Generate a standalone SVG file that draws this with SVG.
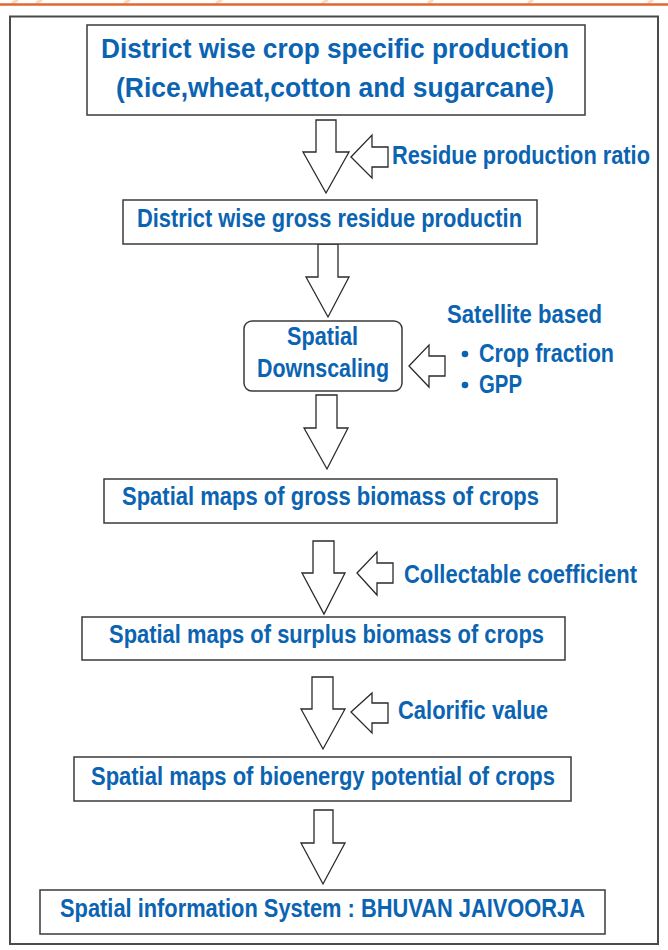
<svg xmlns="http://www.w3.org/2000/svg" width="668" height="950" viewBox="0 0 668 950">
<defs>
<style>
.t{font-family:"Liberation Sans Narrow","Liberation Sans",Arial,sans-serif;font-weight:bold;fill:#0B64B2;font-size:26.5px}
.tt{font-size:28.5px}
.box{fill:#fff;stroke:#3a3a3a;stroke-width:1.5}
.arr{fill:#fff;stroke:#2a2a2a;stroke-width:1.3;stroke-linejoin:miter}
.deco{stroke:#F7C9A8;stroke-width:3;fill:none;opacity:0.7}
</style>
</defs>
<rect width="668" height="950" fill="#fff"/>
<g id="topband">
<path class="deco" d="M12 3 L18 0 M36 3 L42 0 M124 3 L130 0 M216 3 L222 0 M322 3 L328 0 M428 3 L433 0 M528 3 L533 0 M648 3 L653 0"/>
<line x1="0" y1="4.5" x2="668" y2="4.5" stroke="#E0672D" stroke-width="2.5"/>
</g>
<rect id="frame" x="10" y="16.5" width="648" height="927.5" fill="none" stroke="#4a4a4a" stroke-width="2"/>

<g id="connectors">
<polygon class="arr" points="316,120 336,120 336,152 349,152 326,193 303,152 316,152"/>
<polygon class="arr" points="318,244 338,244 338,277 349,277 328,317 306,277 318,277"/>
<polygon class="arr" points="316,395 337,395 337,428 348,428 327,469 304,428 316,428"/>
<polygon class="arr" points="313,541 334,541 334,573 345,573 324,614 302,573 313,573"/>
<polygon class="arr" points="312,677 333,677 333,709 345,709 323,749 301,709 312,709"/>
<polygon class="arr" points="314,810 333,810 333,843 345,843 323,884 301,843 314,843"/>
<polygon class="arr" points="351,157 372,135 372,147 388,147 388,167 372,167 372,178"/>
<polygon class="arr" points="409,366 429,345 429,356 445,356 445,376 429,376 429,387"/>
<polygon class="arr" points="357,573 377,552 377,563 393,563 393,583 377,583 377,595"/>
<polygon class="arr" points="351,712 372,693 372,703 388,703 388,723 372,723 372,733"/>
</g>

<g id="n1">
<rect class="box" x="87" y="25" width="498" height="90"/>
<text class="t tt" x="101" y="58" textLength="468" lengthAdjust="spacingAndGlyphs">District wise crop specific production</text>
<text class="t tt" x="116" y="97" textLength="438" lengthAdjust="spacingAndGlyphs">(Rice,wheat,cotton and sugarcane)</text>
</g>
<g id="in1">
<text class="t" x="392" y="164" textLength="258" lengthAdjust="spacingAndGlyphs">Residue production ratio</text>
</g>
<g id="n2">
<rect class="box" x="123" y="200" width="414" height="44"/>
<text class="t" x="137" y="227" textLength="385" lengthAdjust="spacingAndGlyphs">District wise gross residue productin</text>
</g>
<g id="n3">
<rect class="box" x="244" y="321" width="158" height="70" rx="8" ry="8"/>
<text class="t" x="287" y="345" textLength="71" lengthAdjust="spacingAndGlyphs">Spatial</text>
<text class="t" x="257" y="377" textLength="132" lengthAdjust="spacingAndGlyphs">Downscaling</text>
</g>
<g id="in2">
<text class="t" x="447" y="323" textLength="155" lengthAdjust="spacingAndGlyphs">Satellite based</text>
<circle cx="465" cy="354" r="3.3" fill="#0B64B2"/>
<text class="t" x="479" y="362" textLength="135" lengthAdjust="spacingAndGlyphs">Crop fraction</text>
<circle cx="465" cy="385" r="3.3" fill="#0B64B2"/>
<text class="t" x="479" y="393" textLength="43" lengthAdjust="spacingAndGlyphs">GPP</text>
</g>
<g id="n4">
<rect class="box" x="104" y="479" width="453" height="44"/>
<text class="t" x="122" y="505" textLength="417" lengthAdjust="spacingAndGlyphs">Spatial maps of gross biomass of crops</text>
</g>
<g id="in3">
<text class="t" x="404" y="583" textLength="233" lengthAdjust="spacingAndGlyphs">Collectable coefficient</text>
</g>
<g id="n5">
<rect class="box" x="82" y="617" width="483" height="43"/>
<text class="t" x="109" y="643" textLength="435" lengthAdjust="spacingAndGlyphs">Spatial maps of surplus biomass of crops</text>
</g>
<g id="in4">
<text class="t" x="398" y="719" textLength="150" lengthAdjust="spacingAndGlyphs">Calorific value</text>
</g>
<g id="n6">
<rect class="box" x="74" y="757" width="497" height="44"/>
<text class="t" x="91" y="785" textLength="464" lengthAdjust="spacingAndGlyphs">Spatial maps of bioenergy potential of crops</text>
</g>
<g id="n7">
<rect class="box" x="40" y="890" width="565" height="44"/>
<text class="t" x="60" y="917" textLength="525" lengthAdjust="spacingAndGlyphs">Spatial information System : BHUVAN JAIVOORJA</text>
</g>
</svg>
